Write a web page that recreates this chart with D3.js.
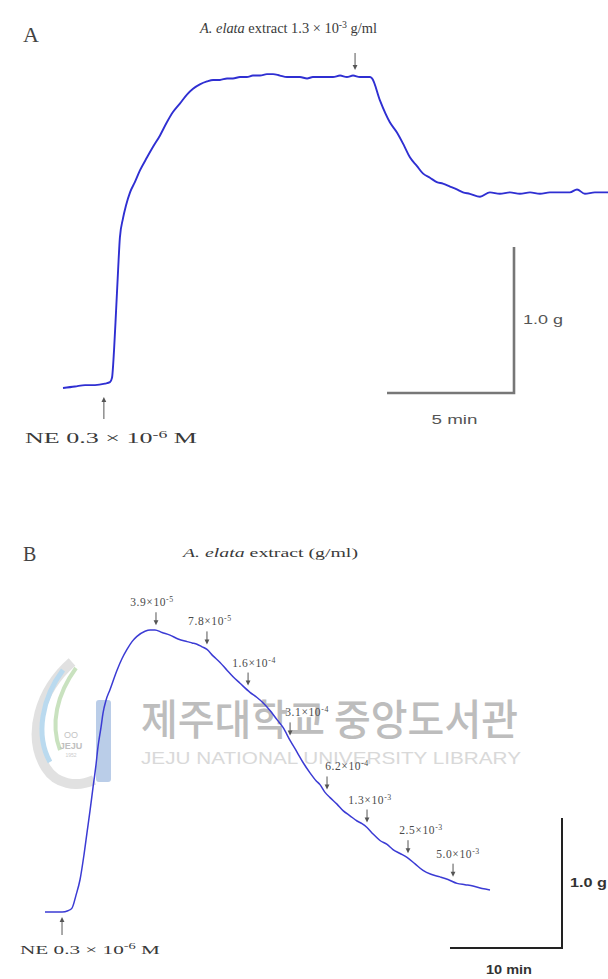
<!DOCTYPE html>
<html>
<head>
<meta charset="utf-8">
<script src="https://cdn.jsdelivr.net/npm/d3@7"></script>
<style>
  html, body { margin: 0; padding: 0; background: #fff; }
  svg { display: block; }
</style>
</head>
<body>
<svg id="fig" width="608" height="979"></svg>
<script>
// ---------------------------------------------------------------
// Panel A: single dose of extract on NE-precontracted ring
// time in minutes from start of trace, tension in g above rest
// ---------------------------------------------------------------
const traceA_time = [
  0.00, 0.47, 0.87, 1.26, 1.65, 1.85, 1.93, 2.01, 2.09, 2.17,
  2.24, 2.36, 2.48, 2.64, 2.83, 3.03, 3.31, 3.54, 3.82, 4.09,
  4.33, 4.61, 4.88, 5.12, 5.39, 5.67, 5.91, 6.18, 6.46, 6.69,
  6.97, 7.24, 7.48, 7.76, 8.03, 8.27, 8.54, 8.82, 9.06, 9.33,
  9.61, 9.84, 10.12, 10.39, 10.63, 10.91, 11.18, 11.42, 11.69, 11.93,
  12.09, 12.17, 12.48, 12.87, 13.15, 13.43, 13.66, 13.94, 14.17, 14.45,
  14.72, 14.96, 15.24, 15.51, 15.75, 16.02, 16.42, 16.81, 17.20, 17.60,
  17.99, 18.39, 18.78, 19.17, 19.57, 19.96, 20.24, 20.55, 20.94, 21.46
];
const traceA_tension = [
  0.00, 0.01, 0.02, 0.02, 0.03, 0.04, 0.07, 0.26, 0.53, 0.81,
  1.03, 1.16, 1.25, 1.34, 1.41, 1.49, 1.58, 1.65, 1.73, 1.82,
  1.89, 1.95, 2.01, 2.05, 2.08, 2.10, 2.11, 2.11, 2.12, 2.12,
  2.13, 2.13, 2.14, 2.14, 2.15, 2.15, 2.14, 2.13, 2.13, 2.13,
  2.12, 2.13, 2.13, 2.13, 2.13, 2.14, 2.13, 2.14, 2.13, 2.13,
  2.13, 2.12, 1.97, 1.82, 1.75, 1.66, 1.58, 1.52, 1.47, 1.44,
  1.41, 1.40, 1.38, 1.36, 1.34, 1.33, 1.31, 1.34, 1.33, 1.34,
  1.33, 1.34, 1.33, 1.34, 1.34, 1.34, 1.36, 1.33, 1.34, 1.34
];
const neTimeA = 1.61;        // NE added (min)
const extractTimeA = 11.50;  // extract added (min)

// ---------------------------------------------------------------
// Panel B: cumulative doses of extract
// ---------------------------------------------------------------
const traceB_time = [
  0.00, 0.89, 1.52, 2.05, 2.41, 2.77, 3.13, 3.48, 3.75, 4.02,
  4.29, 4.55, 4.73, 5.00, 5.18, 5.45, 5.80, 6.43, 6.88, 7.32,
  7.77, 8.21, 8.93, 9.38, 9.82, 10.45, 11.16, 11.88, 12.68, 13.13,
  13.57, 14.02, 14.46, 15.00, 15.63, 16.25, 16.79, 17.41, 18.30, 18.93,
  19.46, 20.09, 20.71, 21.25, 21.88, 22.50, 23.04, 23.66, 24.20, 24.55,
  25.00, 25.45, 26.07, 26.61, 27.23, 27.86, 28.30, 28.75, 29.29, 29.91,
  30.54, 31.07, 31.70, 32.32, 33.04, 33.75, 34.46, 35.27, 35.98, 36.79,
  37.50, 38.21, 39.02, 39.73
];
const traceB_tension = [
  0.00, 0.00, 0.00, 0.01, 0.03, 0.13, 0.25, 0.44, 0.61, 0.78,
  0.96, 1.13, 1.27, 1.42, 1.53, 1.63, 1.71, 1.86, 1.95, 2.02,
  2.08, 2.12, 2.16, 2.17, 2.17, 2.15, 2.13, 2.10, 2.08, 2.07,
  2.06, 2.04, 2.02, 1.97, 1.92, 1.86, 1.81, 1.76, 1.69, 1.65,
  1.61, 1.55, 1.48, 1.42, 1.32, 1.23, 1.15, 1.07, 1.01, 0.98,
  0.92, 0.88, 0.83, 0.78, 0.74, 0.70, 0.68, 0.65, 0.60, 0.55,
  0.52, 0.48, 0.45, 0.42, 0.37, 0.32, 0.29, 0.27, 0.25, 0.22,
  0.21, 0.20, 0.18, 0.17
];
const neTimeB = 1.52;
const doseTimesB = [9.91, 14.46, 18.13, 21.88, 25.18, 28.75, 32.41, 36.43];
const doseMantissaB = ["3.9", "7.8", "1.6", "3.1", "6.2", "1.3", "2.5", "5.0"];
const doseExponentB = ["-5", "-5", "-4", "-4", "-4", "-3", "-3", "-3"];

// scale bar lengths
const barA = { minutes: 5, grams: 1.0 };
const barB = { minutes: 10, grams: 1.0 };

// ---------------------------------------------------------------
const svg = d3.select("#fig");
const SERIF = "'Liberation Serif', 'DejaVu Serif', serif";
const SANS = "'Liberation Sans', Arial, sans-serif";
const TEXT = "#3a3a3a";

// horizontal label offsets for the dose labels in B (px)
const doseLabelShift = [-4, 3, 6, 17, 20, 3, 13, 5];

// writes text made of plain / italic / superscript pieces
function richText(g, x, y, parts, opts) {
  const t = g.append("text")
    .attr("x", x).attr("y", y)
    .attr("font-family", opts.family || SERIF)
    .attr("font-size", opts.size)
    .attr("fill", opts.fill || TEXT)
    .attr("text-anchor", opts.anchor || "start")
    .attr("letter-spacing", opts.spacing || 0);
  if (opts.length) t.attr("textLength", opts.length).attr("lengthAdjust", "spacingAndGlyphs");
  parts.forEach(p => {
    const s = t.append("tspan").text(p.t);
    if (p.it) s.attr("font-style", "italic");
    if (p.sup) s.attr("font-size", opts.size * 0.68).attr("baseline-shift", "55%");
  });
  return t;
}

function plainText(g, x, y, str, opts) {
  const t = g.append("text")
    .attr("x", x).attr("y", y)
    .attr("font-family", opts.family || SANS)
    .attr("font-size", opts.size)
    .attr("font-weight", opts.weight || "normal")
    .attr("fill", opts.fill || TEXT)
    .attr("text-anchor", opts.anchor || "start")
    .text(str);
  if (opts.length) t.attr("textLength", opts.length).attr("lengthAdjust", "spacingAndGlyphs");
  return t;
}

function arrow(g, x, yTail, yTip, color) {
  const dir = yTip > yTail ? 1 : -1;
  g.append("line")
    .attr("x1", x).attr("x2", x)
    .attr("y1", yTail).attr("y2", yTip - dir * 3)
    .attr("stroke", color).attr("stroke-width", 1);
  g.append("path")
    .attr("d", `M${x - 2.4},${yTip - dir * 5} L${x + 2.4},${yTip - dir * 5} L${x},${yTip} Z`)
    .attr("fill", color);
}

function interp(times, vals, t) {
  const i = Math.max(1, Math.min(times.length - 1, d3.bisectLeft(times, t)));
  const f = (t - times[i - 1]) / (times[i] - times[i - 1]);
  return vals[i - 1] + f * (vals[i] - vals[i - 1]);
}

// ---------------------------------------------------------------
// Library watermark (behind everything)
// ---------------------------------------------------------------
const wm = svg.append("g").attr("opacity", 0.8);
wm.append("path")
  .attr("d", "M72,662 C40,690 26,735 46,768 C56,784 76,788 94,780")
  .attr("fill", "none").attr("stroke", "#dadada").attr("stroke-width", 10);
wm.append("path")
  .attr("d", "M63,670 C42,698 35,735 50,762")
  .attr("fill", "none").attr("stroke", "#a9d2ec").attr("stroke-width", 5);
wm.append("path")
  .attr("d", "M76,668 C57,694 50,724 60,750")
  .attr("fill", "none").attr("stroke", "#bcdcb0").attr("stroke-width", 4);
wm.append("rect")
  .attr("x", 96).attr("y", 700).attr("width", 15).attr("height", 82)
  .attr("rx", 3).attr("fill", "#a9c1e3");
plainText(wm, 71, 738, "OO", { size: 9, anchor: "middle", fill: "#b5b5b5" });
plainText(wm, 71, 749, "JEJU", { size: 9, weight: "bold", anchor: "middle", fill: "#b0b0b0" });
plainText(wm, 71, 757, "1952", { size: 5, anchor: "middle", fill: "#c0c0c0" });
wm.append("text")
  .attr("x", 141).attr("y", 735)
  .attr("font-family", "'Noto Sans CJK KR', sans-serif")
  .attr("font-size", 42).attr("font-weight", 500).attr("fill", "#adadad")
  .attr("textLength", 377).attr("lengthAdjust", "spacingAndGlyphs")
  .text("제주대학교 중앙도서관");
wm.append("text")
  .attr("x", 141).attr("y", 764)
  .attr("font-family", SANS)
  .attr("font-size", 17).attr("fill", "#d0d0d0")
  .attr("textLength", 380).attr("lengthAdjust", "spacingAndGlyphs")
  .text("JEJU NATIONAL UNIVERSITY LIBRARY");

// ---------------------------------------------------------------
// Panel A
// ---------------------------------------------------------------
const gA = svg.append("g");
const xA = d3.scaleLinear().domain([0, 21.46]).range([63, 608]);
const yA = d3.scaleLinear().domain([0, 1]).range([388, 242]);

plainText(gA, 23, 42, "A", { family: SERIF, size: 22, fill: "#444" });

richText(gA, 200, 33, [
  { t: "A. elata", it: true }, { t: " extract 1.3 × 10" }, { t: "-3", sup: true }, { t: " g/ml" }
], { size: 14, length: 177 });

const lineA = d3.line().x(d => xA(d[0])).y(d => yA(d[1])).curve(d3.curveMonotoneX);
gA.append("path")
  .datum(d3.zip(traceA_time, traceA_tension))
  .attr("d", lineA)
  .attr("fill", "none").attr("stroke", "#2f2fd2")
  .attr("stroke-width", 1.9).attr("stroke-linejoin", "round");

arrow(gA, xA(extractTimeA), 53, 70, "#555");
arrow(gA, xA(neTimeA), 419, 397, "#555");

richText(gA, 25, 443, [
  { t: "NE  0.3 × 10" }, { t: "-6", sup: true }, { t: " M" }
], { size: 15, length: 172 });

// scale bar A, corner at lower right
const cornerA = { x: 514, y: 393 };
const wA = xA(barA.minutes) - xA(0);
const hA = yA(0) - yA(barA.grams);
gA.append("path")
  .attr("d", `M${cornerA.x - wA},${cornerA.y} H${cornerA.x} V${cornerA.y - hA}`)
  .attr("fill", "none").attr("stroke", "#777").attr("stroke-width", 2.6);
plainText(gA, cornerA.x + 9, cornerA.y - hA / 2 + 4, barA.grams.toFixed(1) + " g",
  { size: 12, fill: "#555", length: 40 });
plainText(gA, cornerA.x - wA / 2 - 19, cornerA.y + 31, barA.minutes + " min",
  { size: 12, fill: "#555", length: 46 });

// ---------------------------------------------------------------
// Panel B
// ---------------------------------------------------------------
const gB = svg.append("g");
const xB = d3.scaleLinear().domain([0, 39.73]).range([45, 490]);
const yB = d3.scaleLinear().domain([0, 1]).range([912, 782]);

plainText(gB, 23, 561, "B", { family: SERIF, size: 20, fill: "#444" });

richText(gB, 183, 557, [
  { t: "A. elata", it: true }, { t: " extract (g/ml)" }
], { size: 12.5, length: 175 });

const lineB = d3.line().x(d => xB(d[0])).y(d => yB(d[1])).curve(d3.curveMonotoneX);
gB.append("path")
  .datum(d3.zip(traceB_time, traceB_tension))
  .attr("d", lineB)
  .attr("fill", "none").attr("stroke", "#3b3bd4")
  .attr("stroke-width", 1.5).attr("stroke-linejoin", "round");

doseTimesB.forEach((t, i) => {
  const x = xB(t);
  const tip = yB(interp(traceB_time, traceB_tension, t)) - 5;
  arrow(gB, x, tip - 13, tip, "#555");
  richText(gB, x + doseLabelShift[i], tip - 19, [
    { t: doseMantissaB[i] + "×10" }, { t: doseExponentB[i], sup: true }
  ], { size: 11.5, anchor: "middle", spacing: 0.6, fill: "#4a4a4a" });
});

arrow(gB, xB(neTimeB), 935, 917, "#555");
richText(gB, 20, 954, [
  { t: "NE  0.3 × 10" }, { t: "-6", sup: true }, { t: " M" }
], { size: 12.5, length: 140 });

// scale bar B
const cornerB = { x: 562, y: 948 };
const wB = xB(barB.minutes) - xB(0);
const hB = yB(0) - yB(barB.grams);
gB.append("path")
  .attr("d", `M${cornerB.x - wB},${cornerB.y} H${cornerB.x} V${cornerB.y - hB}`)
  .attr("fill", "none").attr("stroke", "#222").attr("stroke-width", 2);
plainText(gB, cornerB.x + 8, cornerB.y - hB / 2 + 4, barB.grams.toFixed(1) + " g",
  { size: 12, weight: "bold", fill: "#333", length: 37 });
plainText(gB, cornerB.x - wB / 2 - 20, cornerB.y + 26, barB.minutes + " min",
  { size: 12, weight: "bold", fill: "#333", length: 46 });
</script>
</body>
</html>
